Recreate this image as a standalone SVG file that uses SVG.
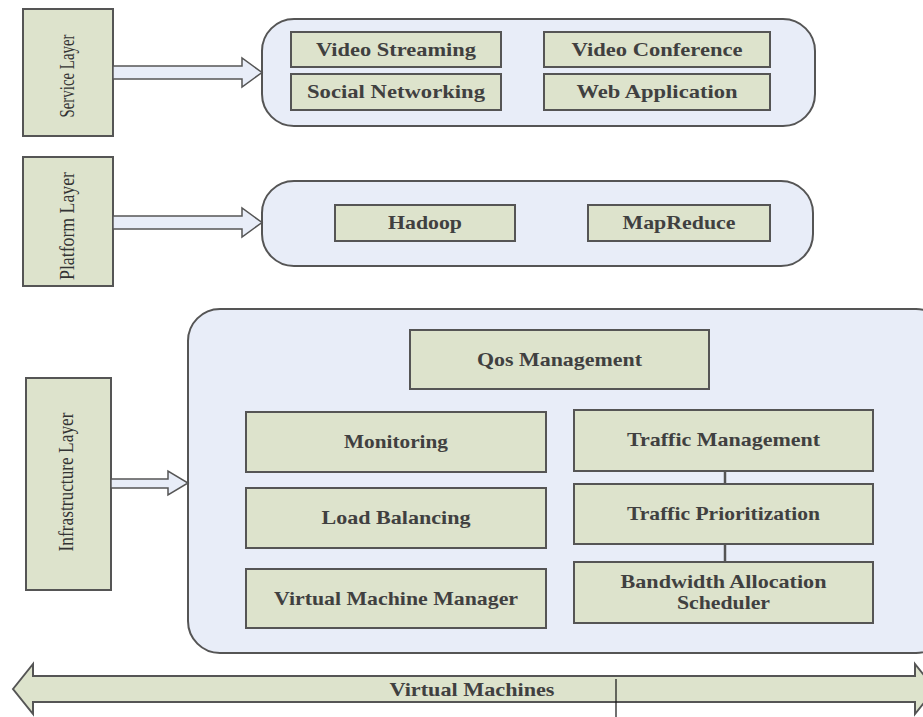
<svg xmlns="http://www.w3.org/2000/svg" width="923" height="717" viewBox="0 0 923 717">
<style>
.layer{fill:#dde3cc;stroke:#555;stroke-width:2}
.cont{fill:#e8edf8;stroke:#555;stroke-width:2}
.box{fill:#dde3cc;stroke:#555;stroke-width:2}
.harrow{fill:#e8edf8;stroke:#555;stroke-width:1.5;stroke-linejoin:miter}
.lt{font-family:"Liberation Serif","Times New Roman",serif;font-size:21px;fill:#333;text-anchor:middle}
.bt{font-family:"Liberation Serif","Times New Roman",serif;font-size:19px;font-weight:bold;fill:#404040;text-anchor:middle}
.conn{stroke:#555;stroke-width:2.5;fill:none}
</style>
<rect width="923" height="717" fill="#ffffff"/>

<g id="service-layer">
<rect class="layer" x="23" y="9" width="90" height="127"/>
<text class="lt" transform="translate(74,76) rotate(-90)" textLength="83" lengthAdjust="spacingAndGlyphs">Service Layer</text>
</g>
<g id="service-container">
<rect class="cont" x="262" y="19" width="553" height="107" rx="32" ry="32"/>
</g>
<g id="video-streaming">
<rect class="box" x="291" y="32" width="210" height="35"/>
<text class="bt" x="396" y="56" textLength="160" lengthAdjust="spacingAndGlyphs">Video Streaming</text>
</g>
<g id="video-conference">
<rect class="box" x="544" y="32" width="226" height="35"/>
<text class="bt" x="657" y="56" textLength="171" lengthAdjust="spacingAndGlyphs">Video Conference</text>
</g>
<g id="social-networking">
<rect class="box" x="291" y="74" width="210" height="36"/>
<text class="bt" x="396" y="98" textLength="178" lengthAdjust="spacingAndGlyphs">Social Networking</text>
</g>
<g id="web-application">
<rect class="box" x="544" y="74" width="226" height="36"/>
<text class="bt" x="657" y="98" textLength="161" lengthAdjust="spacingAndGlyphs">Web Application</text>
</g>

<g id="platform-layer">
<rect class="layer" x="23" y="157" width="90" height="129"/>
<text class="lt" transform="translate(74,226) rotate(-90)" textLength="108" lengthAdjust="spacingAndGlyphs">Platform Layer</text>
</g>
<g id="platform-container">
<rect class="cont" x="262" y="181" width="551" height="85" rx="32" ry="32"/>
</g>
<g id="hadoop">
<rect class="box" x="335" y="205" width="180" height="36"/>
<text class="bt" x="425" y="229" textLength="74" lengthAdjust="spacingAndGlyphs">Hadoop</text>
</g>
<g id="mapreduce">
<rect class="box" x="588" y="205" width="182" height="36"/>
<text class="bt" x="679" y="229" textLength="113" lengthAdjust="spacingAndGlyphs">MapReduce</text>
</g>

<g id="infrastructure-layer">
<rect class="layer" x="26" y="378" width="85" height="212"/>
<text class="lt" transform="translate(73,482) rotate(-90)" textLength="139" lengthAdjust="spacingAndGlyphs">Infrastructure Layer</text>
</g>
<g id="infrastructure-container">
<rect class="cont" x="188" y="309" width="760" height="344" rx="32" ry="32"/>
</g>
<g id="qos-management">
<rect class="box" x="410" y="330" width="299" height="59"/>
<text class="bt" x="559.5" y="366" textLength="165" lengthAdjust="spacingAndGlyphs">Qos Management</text>
</g>
<g id="monitoring">
<rect class="box" x="246" y="412" width="300" height="60"/>
<text class="bt" x="396" y="448" textLength="104" lengthAdjust="spacingAndGlyphs">Monitoring</text>
</g>
<g id="load-balancing">
<rect class="box" x="246" y="488" width="300" height="60"/>
<text class="bt" x="396" y="524" textLength="149" lengthAdjust="spacingAndGlyphs">Load Balancing</text>
</g>
<g id="vm-manager">
<rect class="box" x="246" y="569" width="300" height="59"/>
<text class="bt" x="396" y="605" textLength="244" lengthAdjust="spacingAndGlyphs">Virtual Machine Manager</text>
</g>
<g id="traffic-management">
<rect class="box" x="574" y="410" width="299" height="61"/>
<text class="bt" x="723.5" y="446" textLength="193" lengthAdjust="spacingAndGlyphs">Traffic Management</text>
</g>
<g id="traffic-prioritization">
<rect class="box" x="574" y="484" width="299" height="60"/>
<text class="bt" x="723.5" y="520" textLength="193" lengthAdjust="spacingAndGlyphs">Traffic Prioritization</text>
</g>
<g id="bandwidth-scheduler">
<rect class="box" x="574" y="562" width="299" height="61"/>
<text class="bt" x="723.5" y="588" textLength="206" lengthAdjust="spacingAndGlyphs">Bandwidth Allocation</text>
<text class="bt" x="723.5" y="609" textLength="93" lengthAdjust="spacingAndGlyphs">Scheduler</text>
</g>

<g id="virtual-machines">
<polygon class="box" points="13,689 33,664 33,676 915,676 915,664 935,689 915,714 915,702 33,702 33,714"/>
<text class="bt" x="472" y="696" textLength="165" lengthAdjust="spacingAndGlyphs">Virtual Machines</text>
</g>

<g id="connectors">
<polygon class="harrow" points="113,66 242,66 242,58 262,72.5 242,87 242,79 113,79"/>
<polygon class="harrow" points="113,216 242,216 242,208 262,222.5 242,237 242,229 113,229"/>
<polygon class="harrow" points="111,479 168,479 168,471 188,483 168,495 168,488 111,488"/>
<line class="conn" x1="725" y1="471" x2="725" y2="484"/>
<line class="conn" x1="725" y1="544" x2="725" y2="562"/>
<line x1="616" y1="679" x2="616" y2="717" stroke="#111" stroke-width="1.2"/>
</g>
</svg>
